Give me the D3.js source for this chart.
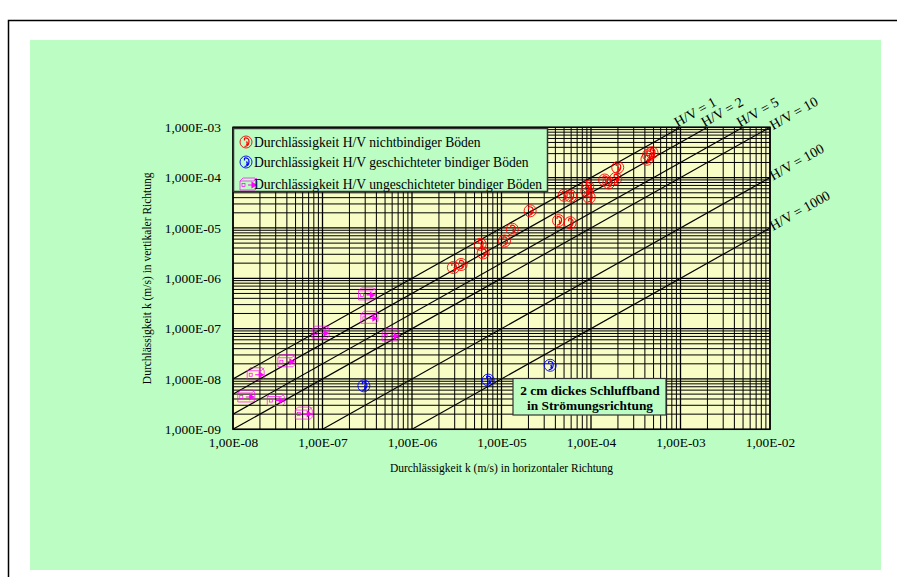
<!DOCTYPE html>
<html><head><meta charset="utf-8">
<script src="https://cdn.jsdelivr.net/npm/d3@7"></script>
<style>body{margin:0;background:#fff;overflow:hidden}</style>
</head><body>
<svg id="c" width="897" height="577"></svg>
<script>
// ---------- data ----------
const xTicks = [1e-8, 1e-7, 1e-6, 1e-5, 1e-4, 1e-3, 1e-2];
const xTickLabels = ["1,00E-08","1,00E-07","1,00E-06","1,00E-05","1,00E-04","1,00E-03","1,00E-02"];
const yTicks = [1e-9, 1e-8, 1e-7, 1e-6, 1e-5, 1e-4, 1e-3];
const yTickLabels = ["1,000E-09","1,000E-08","1,000E-07","1,000E-06","1,000E-05","1,000E-04","1,000E-03"];
const ratios = [1, 2, 5, 10, 100, 1000];
const ratioLabels = ["H/V = 1","H/V = 2","H/V = 5","H/V = 10","H/V = 100","H/V = 1000"];
const seriesNames = ["Durchlässigkeit H/V nichtbindiger Böden",
                     "Durchlässigkeit H/V geschichteter bindiger Böden",
                     "Durchlässigkeit H/V ungeschichteter bindiger Böden"];
// nichtbindige Böden (red)
const redKh = [2.90e-6,3.54e-6,5.77e-6,6.24e-6,1.08e-5,1.32e-5,2.09e-5,4.34e-5,5.85e-5,5.01e-5,5.93e-5,9.18e-5,9.0e-5,9.55e-5,1.42e-4,1.58e-4,1.89e-4,1.99e-4,4.40e-4,4.80e-4,4.22e-4];
const redKv = [1.64e-6,1.88e-6,4.74e-6,3.19e-6,5.51e-6,9.42e-6,2.19e-5,1.40e-5,1.27e-5,4.46e-5,4.31e-5,6.67e-5,5.43e-5,4.04e-5,8.97e-5,7.84e-5,9.61e-5,1.59e-4,2.82e-4,3.13e-4,2.32e-4];
// geschichtete bindige Böden (blue)
const blueKh = [2.9e-7, 7.1e-6, 3.5e-5];
const blueKv = [7.3e-9, 9.5e-9, 1.87e-8];
// ungeschichtete bindige Böden (magenta)
const pinkKh = [3.1e-7,3.3e-7,9.4e-8,5.7e-7,3.9e-8,1.77e-8,1.39e-8,2.97e-8,6.1e-8];
const pinkKv = [4.9e-7,1.68e-7,8.5e-8,7.5e-8,2.3e-8,1.27e-8,4.6e-9,3.9e-9,2.1e-9];
const xTitle = "Durchlässigkeit k (m/s) in horizontaler Richtung";
const yTitle = "Durchlässigkeit k (m/s) in vertikaler Richtung";
const noteLines = ["2 cm dickes Schluffband", "in Strömungsrichtung"];

// ---------- layout ----------
const FONT = "'Liberation Serif','Times New Roman',serif";
const GREEN = "#bcfdc4", YELLOW = "#f8fdc6";
const svg = d3.select("#c");
const L = 233, R = 770, T = 127.3, B = 429.3;
const x = d3.scaleLog().domain([1e-8, 1e-2]).range([L, R]);
const y = d3.scaleLog().domain([1e-9, 1e-3]).range([B, T]);

// outer frame & background
svg.append("rect").attr("x", 8.5).attr("y", 20.5).attr("width", 900).attr("height", 570)
  .attr("fill", "#fff").attr("stroke", "#000").attr("stroke-width", 1.5);
svg.append("rect").attr("x", 30).attr("y", 40).attr("width", 851).attr("height", 530).attr("fill", GREEN);

// plot area
svg.append("rect").attr("x", L).attr("y", T).attr("width", R - L).attr("height", B - T).attr("fill", YELLOW);

const grid = svg.append("g");
const isMajor = (arr, d) => arr.some(t => Math.abs(t - d) / d < 1e-6);
// vertical grid (major + minor)
const xGrid = [];
for (let e = -8; e < -2; e++) for (let m = 1; m <= 9; m++) xGrid.push(m * Math.pow(10, e));
xGrid.push(1e-2);
grid.selectAll("line.vx").data(xGrid).join("line")
  .attr("x1", d => x(d)).attr("x2", d => x(d)).attr("y1", T).attr("y2", B)
  .attr("stroke", "#000").attr("stroke-width", d => isMajor(xTicks, d) ? 1.3 : 1);
const yGrid = [];
for (let e = -9; e < -3; e++) for (let m = 1; m <= 9; m++) yGrid.push(m * Math.pow(10, e));
yGrid.push(1e-3);
grid.selectAll("line.hy").data(yGrid).join("line")
  .attr("x1", L).attr("x2", R).attr("y1", d => y(d)).attr("y2", d => y(d))
  .attr("stroke", "#000").attr("stroke-width", d => isMajor(yTicks, d) ? 1.3 : 1);

// H/V ratio lines  (kv = kh / ratio)
svg.append("clipPath").attr("id", "pc").append("rect")
  .attr("x", L).attr("y", T).attr("width", R - L).attr("height", B - T);
const rl = svg.append("g").attr("clip-path", "url(#pc)");
const ends = ratios.map(r => {
  const k0 = Math.max(1e-8, 1e-9 * r), k1 = Math.min(1e-2, 1e-3 * r);
  return {r, x0: x(k0), y0: y(k0 / r), x1: x(k1), y1: y(k1 / r), top: k1 < 1e-2};
});
rl.selectAll("line").data(ends).join("line")
  .attr("x1", d => d.x0).attr("y1", d => d.y0).attr("x2", d => d.x1).attr("y2", d => d.y1)
  .attr("stroke", "#000").attr("stroke-width", 1.2);

// plot border
svg.append("rect").attr("x", L).attr("y", T).attr("width", R - L).attr("height", B - T)
  .attr("fill", "none").attr("stroke", "#000").attr("stroke-width", 1.5);

// ratio labels
const ang = -Math.atan((B - T) / 6 / ((R - L) / 6)) * 180 / Math.PI;
svg.selectAll("text.rl").data(ends).join("text")
  .attr("transform", d => `translate(${d.x1 + (d.top ? -3 : 3)},${d.y1 + (d.top ? 0 : 3)}) rotate(${ang})`)
  .attr("font-family", FONT).attr("font-size", 14).attr("fill", "#000")
  .text((d, i) => ratioLabels[i]);

// axes
const xAxis = d3.axisBottom(x).tickValues(xTicks).tickSize(0).tickPadding(8)
  .tickFormat((d, i) => xTickLabels[i]);
const gx = svg.append("g").attr("transform", `translate(0,${B})`).call(xAxis);
gx.select(".domain").remove();
gx.selectAll("text").attr("font-family", FONT).attr("font-size", 13.4).attr("fill", "#000");
const yAxis = d3.axisLeft(y).tickValues(yTicks).tickSize(0).tickPadding(12)
  .tickFormat((d, i) => yTickLabels[i]);
const gy = svg.append("g").attr("transform", `translate(${L},0)`).call(yAxis);
gy.select(".domain").remove();
gy.selectAll("text").attr("font-family", FONT).attr("font-size", 13.4).attr("fill", "#000");

svg.append("text").attr("x", (L + R) / 2).attr("y", 472).attr("text-anchor", "middle")
  .attr("font-family", FONT).attr("font-size", 11.5).text(xTitle);
svg.append("text").attr("transform", `translate(151,${(T + B) / 2}) rotate(-90)`).attr("text-anchor", "middle")
  .attr("font-family", FONT).attr("font-size", 11.5).text(yTitle);

// markers
function circleGlyph(g, color) {
  g.append("circle").attr("r", 6).attr("fill", "none").attr("stroke", color).attr("stroke-width", 0.9);
  g.append("path").attr("d", "M-1.5,-4 Q3,-4.5 3,-0.5 Q3,4 -1.5,4.5 M-1.5,-4 L-1.5,-1.5 M0.5,-0.5 Q2,1 0.5,3")
    .attr("fill", "none").attr("stroke", color).attr("stroke-width", 1.2);
}
function boxGlyph(g, color) {
  g.append("path").attr("d", "M-8,-3 L-5,-6 L7,-6 L9,-3 L9,4 L7,6 L-8,6 Z M-8,-3 L6,-3 L9,-6")
    .attr("fill", "none").attr("stroke", color).attr("stroke-width", 0.7);
  g.append("rect").attr("x", -6).attr("y", -0.5).attr("width", 3).attr("height", 3)
    .attr("fill", "none").attr("stroke", color).attr("stroke-width", 0.7);
  g.append("path").attr("d", "M0,1 L5,1 M4,-1.5 L8,1 L4,3.5 Z").attr("fill", color).attr("stroke", color).attr("stroke-width", 1.1);
}

const pts = svg.append("g");
const redData = redKh.map((k, i) => [k, redKv[i]]);
const blueData = blueKh.map((k, i) => [k, blueKv[i]]);
const pinkData = pinkKh.map((k, i) => [k, pinkKv[i]]);
pts.selectAll("g.r").data(redData).join("g").attr("transform", d => `translate(${x(d[0])},${y(d[1])})`)
  .each(function () { circleGlyph(d3.select(this), "#ff0000"); });
pts.selectAll("g.b").data(blueData).join("g").attr("transform", d => `translate(${x(d[0])},${y(d[1])})`)
  .each(function () { circleGlyph(d3.select(this), "#0000ff"); });
pts.selectAll("g.p").data(pinkData).join("g").attr("transform", d => `translate(${x(d[0])},${y(d[1])})`)
  .each(function () { boxGlyph(d3.select(this), "#ff00ff"); });

// legend
const lg = svg.append("g");
lg.append("rect").attr("x", 233.5).attr("y", 128.5).attr("width", 314).attr("height", 63)
  .attr("fill", GREEN).attr("stroke", "#333").attr("stroke-width", 1.5);
const legY = [142, 162, 184];
const glyphs = [g => circleGlyph(g, "#ff0000"), g => circleGlyph(g, "#0000ff"), g => boxGlyph(g, "#ff00ff")];
seriesNames.forEach((n, i) => {
  const g = lg.append("g").attr("transform", `translate(${i === 2 ? 248 : 246},${legY[i]})`);
  glyphs[i](g);
  lg.append("text").attr("x", 254).attr("y", legY[i] + 4.5).attr("font-family", FONT).attr("font-size", 13.6)
    .attr("fill", "#000").text(n);
});

// note box
const nb = svg.append("g");
nb.append("rect").attr("x", 513).attr("y", 378.5).attr("width", 153).attr("height", 36.5)
  .attr("fill", GREEN).attr("stroke", "#333").attr("stroke-width", 1.2);
nb.selectAll("text").data(noteLines).join("text")
  .attr("x", 590).attr("y", (d, i) => 394.5 + i * 15).attr("text-anchor", "middle")
  .attr("font-family", FONT).attr("font-weight", "bold").attr("font-size", 13.4).text(d => d);
</script>
</body></html>
